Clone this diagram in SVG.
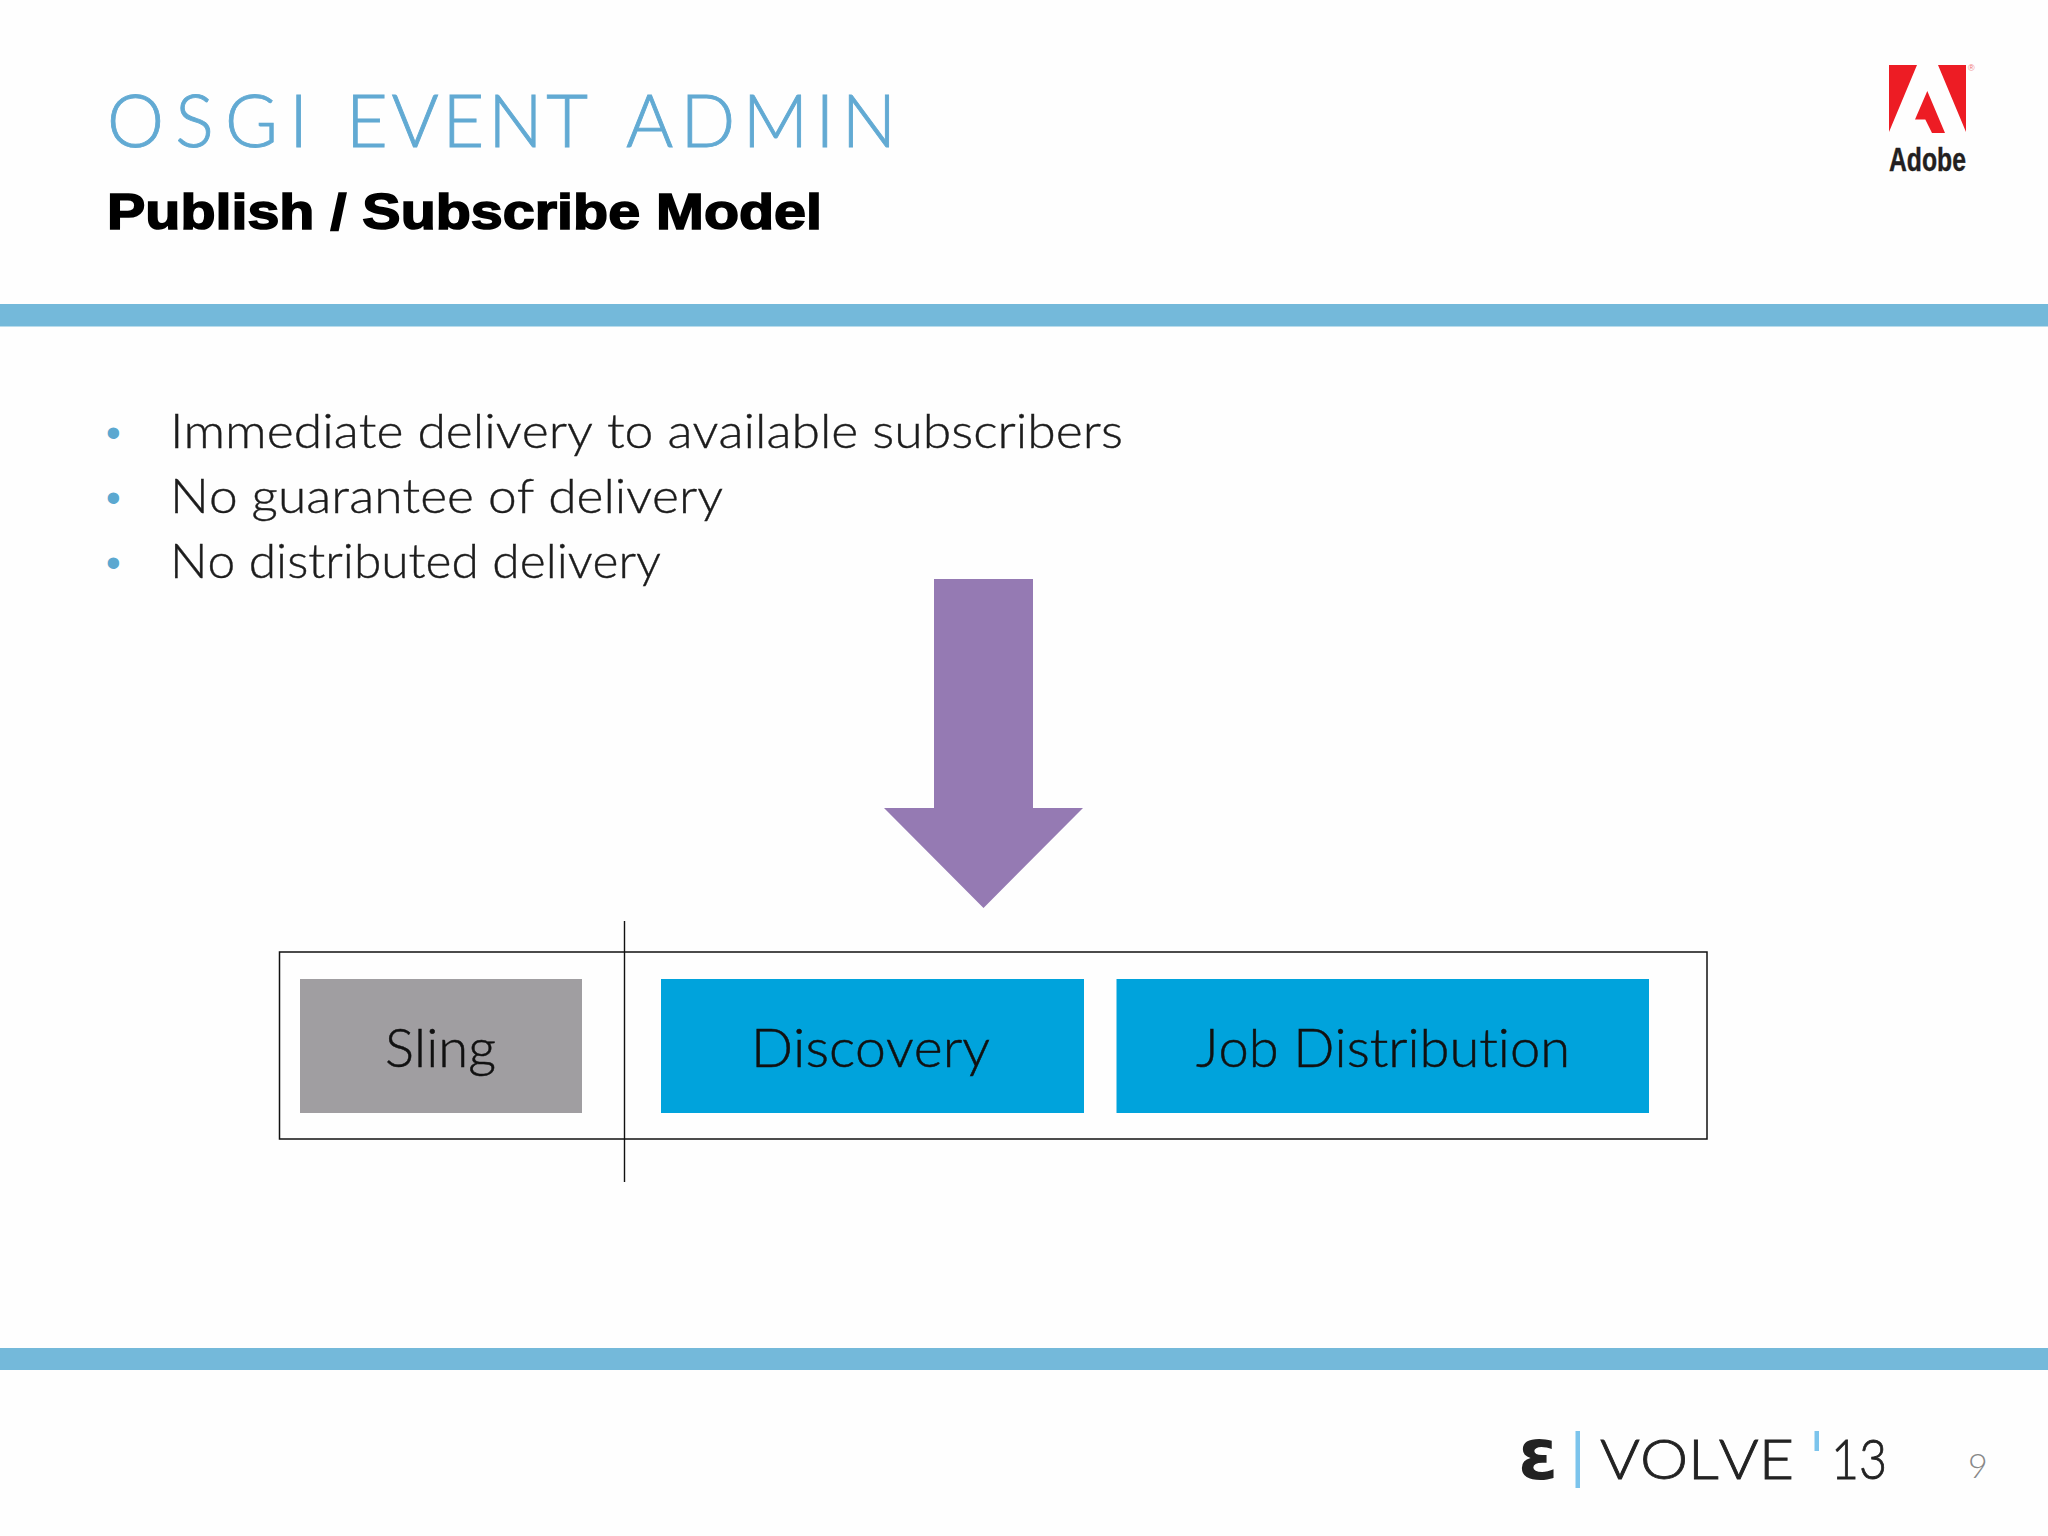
<svg xmlns="http://www.w3.org/2000/svg" width="2048" height="1536" viewBox="0 0 2048 1536">
<style>
.g{font-family:"Lato","Open Sans","Liberation Sans",sans-serif;font-weight:300;font-variant-ligatures:none;font-kerning:none}
.bar{fill:#74b9da}
.box{font-size:54px;fill:#111;stroke:#111;stroke-width:.5px}
.li{font-size:47px;fill:#1c1c1c;stroke:#1c1c1c;stroke-width:.4px}
.bu{font-family:"Liberation Sans",sans-serif;font-size:42px;fill:#5ba8d0}
.foot{font-size:55px;fill:#222;stroke:#222;stroke-width:.8px}
.tick{fill:#7cc4ec}
.ti{font-size:72px;fill:#62aad3;stroke:#62aad3;stroke-width:.9px}
</style>
<rect width="2048" height="1536" fill="#fefefe"/>
<g id="header">
<text class="g ti" x="107" y="147" textLength="201" lengthAdjust="spacing">OSGI</text>
<text class="g ti" x="346" y="147" textLength="242" lengthAdjust="spacing">EVENT</text>
<text class="g ti" x="626" y="147" textLength="270" lengthAdjust="spacing">ADMIN</text>
<text x="107" y="229" font-family="Liberation Sans,sans-serif" font-weight="700" font-size="50" fill="#000" stroke="#000" stroke-width="1.6" textLength="715" lengthAdjust="spacingAndGlyphs">Publish / Subscribe Model</text>
</g>
<g id="adobe-logo">
<path fill="#ed1c24" d="M1889 65H1917L1889 132ZM1938 65H1966V132ZM1927.3 91L1945 133H1932L1925.3 119.5H1915Z"/>
<text x="1968" y="71" font-family="Liberation Sans,sans-serif" font-size="9" fill="#e77">®</text>
<text x="1889" y="171" font-family="Liberation Sans Narrow,Liberation Sans,sans-serif" font-weight="700" font-size="33" fill="#231f20" stroke="#231f20" stroke-width=".4" textLength="77" lengthAdjust="spacingAndGlyphs">Adobe</text>
</g>
<rect class="bar" x="0" y="304" width="2048" height="22.5"/>
<rect class="bar" x="0" y="1348" width="2048" height="22"/>
<g id="bullets">
<text class="bu" x="106" y="447">•</text>
<text class="g li" x="170" y="448" textLength="953" lengthAdjust="spacingAndGlyphs">Immediate delivery to available subscribers</text>
<text class="bu" x="106" y="512">•</text>
<text class="g li" x="170" y="513" textLength="553" lengthAdjust="spacingAndGlyphs">No guarantee of delivery</text>
<text class="bu" x="106" y="577">•</text>
<text class="g li" x="170" y="578" textLength="491" lengthAdjust="spacingAndGlyphs">No distributed delivery</text>
</g>
<g id="connectors">
<path id="down-arrow" fill="#957ab3" d="M934 579H1033V808H1083L983.5 908L884 808H934Z"/>
<path d="M624.5 921V1182" stroke="#111" stroke-width="1.4" fill="none"/>
</g>
<g id="frame"><rect x="279.5" y="952" width="1427.5" height="187" fill="none" stroke="#111" stroke-width="1.5"/></g>
<g id="node-sling">
<rect x="300" y="979" width="282" height="134" fill="#a09ea1"/>
<text class="g box" x="385" y="1067" textLength="111" lengthAdjust="spacingAndGlyphs">Sling</text>
</g>
<g id="node-discovery">
<rect x="661" y="979" width="423" height="134" fill="#00a3dc"/>
<text class="g box" x="751" y="1067" textLength="239" lengthAdjust="spacingAndGlyphs">Discovery</text>
</g>
<g id="node-job-distribution">
<rect x="1116.5" y="979" width="532.5" height="134" fill="#00a3dc"/>
<text class="g box" x="1196" y="1067" textLength="374" lengthAdjust="spacingAndGlyphs">Job Distribution</text>
</g>
<g id="footer">
<text x="1518" y="1479" font-family="DejaVu Sans,sans-serif" font-weight="700" font-size="72" fill="#222">ε</text>
<rect class="tick" x="1575.5" y="1431" width="4.5" height="57"/>
<text class="g foot" x="1600" y="1479" textLength="194" lengthAdjust="spacingAndGlyphs">VOLVE</text>
<rect class="tick" x="1814.5" y="1431" width="4.5" height="20"/>
<text class="g foot" x="1831" y="1479" textLength="56" lengthAdjust="spacingAndGlyphs">13</text>
<text class="g" x="1968" y="1478" font-size="34" fill="#888">9</text>
</g>
</svg>
